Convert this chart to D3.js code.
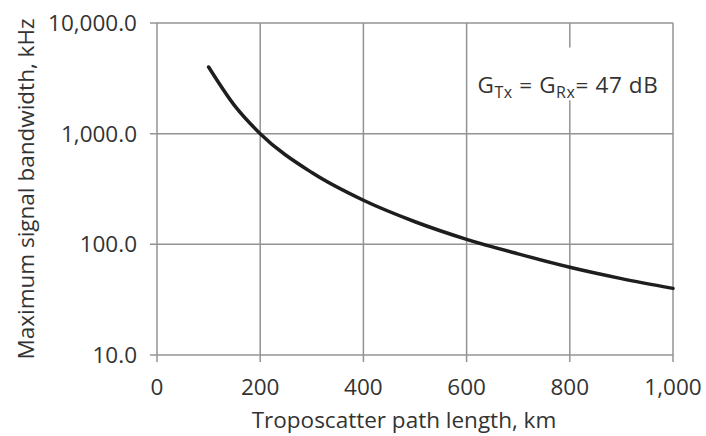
<!DOCTYPE html>
<html>
<head>
<meta charset="utf-8">
<script src="https://cdn.jsdelivr.net/npm/d3@7"></script>
<style>
  body { margin: 0; background: #fff; }
  text { font-family: "Open Sans", "Noto Sans", sans-serif; fill: #333; }
</style>
</head>
<body>
<svg></svg>
<script>
const margin = { t: 23, r: 33, b: 81, l: 157 };
const size = { w: 706, h: 436 };

// values
const pathKm = [100, 150, 200, 300, 400, 500, 600, 700, 800, 900, 1000];
const bandwidthKHz = [4000, 1800, 1000, 445, 250, 160, 111, 82, 62, 49, 40];
const xTicks = [0, 200, 400, 600, 800, 1000];
const yTicks = [10, 100, 1000, 10000];

const svg = d3.select("svg").attr("width", size.w).attr("height", size.h);

const x = d3.scaleLinear().domain([0, 1000]).range([margin.l, size.w - margin.r]);
const y = d3.scaleLog().domain([10, 10000]).range([size.h - margin.b, margin.t]);

const gridColor = "#939393";
const fontSize = 22.5;

// grid
svg.append("g")
	.selectAll("line")
	.data(xTicks)
	.join("line")
	.attr("x1", (d) => x(d))
	.attr("x2", (d) => x(d))
	.attr("y1", y(10000))
	.attr("y2", y(10) + 7)
	.attr("stroke", gridColor)
	.attr("stroke-width", 1.5);

svg.append("g")
	.selectAll("line")
	.data(yTicks)
	.join("line")
	.attr("x1", x(0) - 7)
	.attr("x2", x(1000))
	.attr("y1", (d) => y(d))
	.attr("y2", (d) => y(d))
	.attr("stroke", gridColor)
	.attr("stroke-width", 1.5);

// tick labels
svg.append("g")
	.selectAll("text")
	.data(xTicks)
	.join("text")
	.attr("x", (d) => x(d))
	.attr("y", 395)
	.attr("text-anchor", "middle")
	.attr("font-size", fontSize)
	.text((d) => d3.format(",")(d));

svg.append("g")
	.selectAll("text")
	.data(yTicks)
	.join("text")
	.attr("x", x(0) - 20)
	.attr("y", (d) => y(d) + 8)
	.attr("text-anchor", "end")
	.attr("font-size", fontSize)
	.text((d) => d3.format(",.1f")(d));

// axis titles
svg.append("text")
	.attr("x", 404)
	.attr("y", 428)
	.attr("text-anchor", "middle")
	.attr("font-size", fontSize)
	.text("Troposcatter path length, km");

svg.append("text")
	.attr("transform", `translate(34,${(y(10) + y(10000)) / 2}) rotate(-90)`)
	.attr("text-anchor", "middle")
	.attr("font-size", fontSize)
	.text("Maximum signal bandwidth, kHz");

// annotation with white backing
const note = svg.append("g");
note.append("rect")
	.attr("x", x(620))
	.attr("y", y(6000))
	.attr("width", x(990) - x(620))
	.attr("height", y(2000) - y(6000))
	.attr("fill", "#fff");
const noteText = note.append("text")
	.attr("x", x(621))
	.attr("y", 93)
	.attr("font-size", fontSize)
	.attr("letter-spacing", 0.6);
noteText.append("tspan").text("G");
noteText.append("tspan").attr("font-size", 16).attr("dy", 5).text("Tx");
noteText.append("tspan").attr("dy", -5).text(" = G");
noteText.append("tspan").attr("font-size", 16).attr("dy", 5).text("Rx");
noteText.append("tspan").attr("dy", -5).text("= 47 dB");

// curve
const line = d3.line()
	.x((d, i) => x(pathKm[i]))
	.y((d) => y(d))
	.curve(d3.curveMonotoneX);

svg.append("path")
	.datum(bandwidthKHz)
	.attr("d", line)
	.attr("fill", "none")
	.attr("stroke", "#1e1e1e")
	.attr("stroke-width", 3.5)
	.attr("stroke-linecap", "round");
</script>
</body>
</html>
